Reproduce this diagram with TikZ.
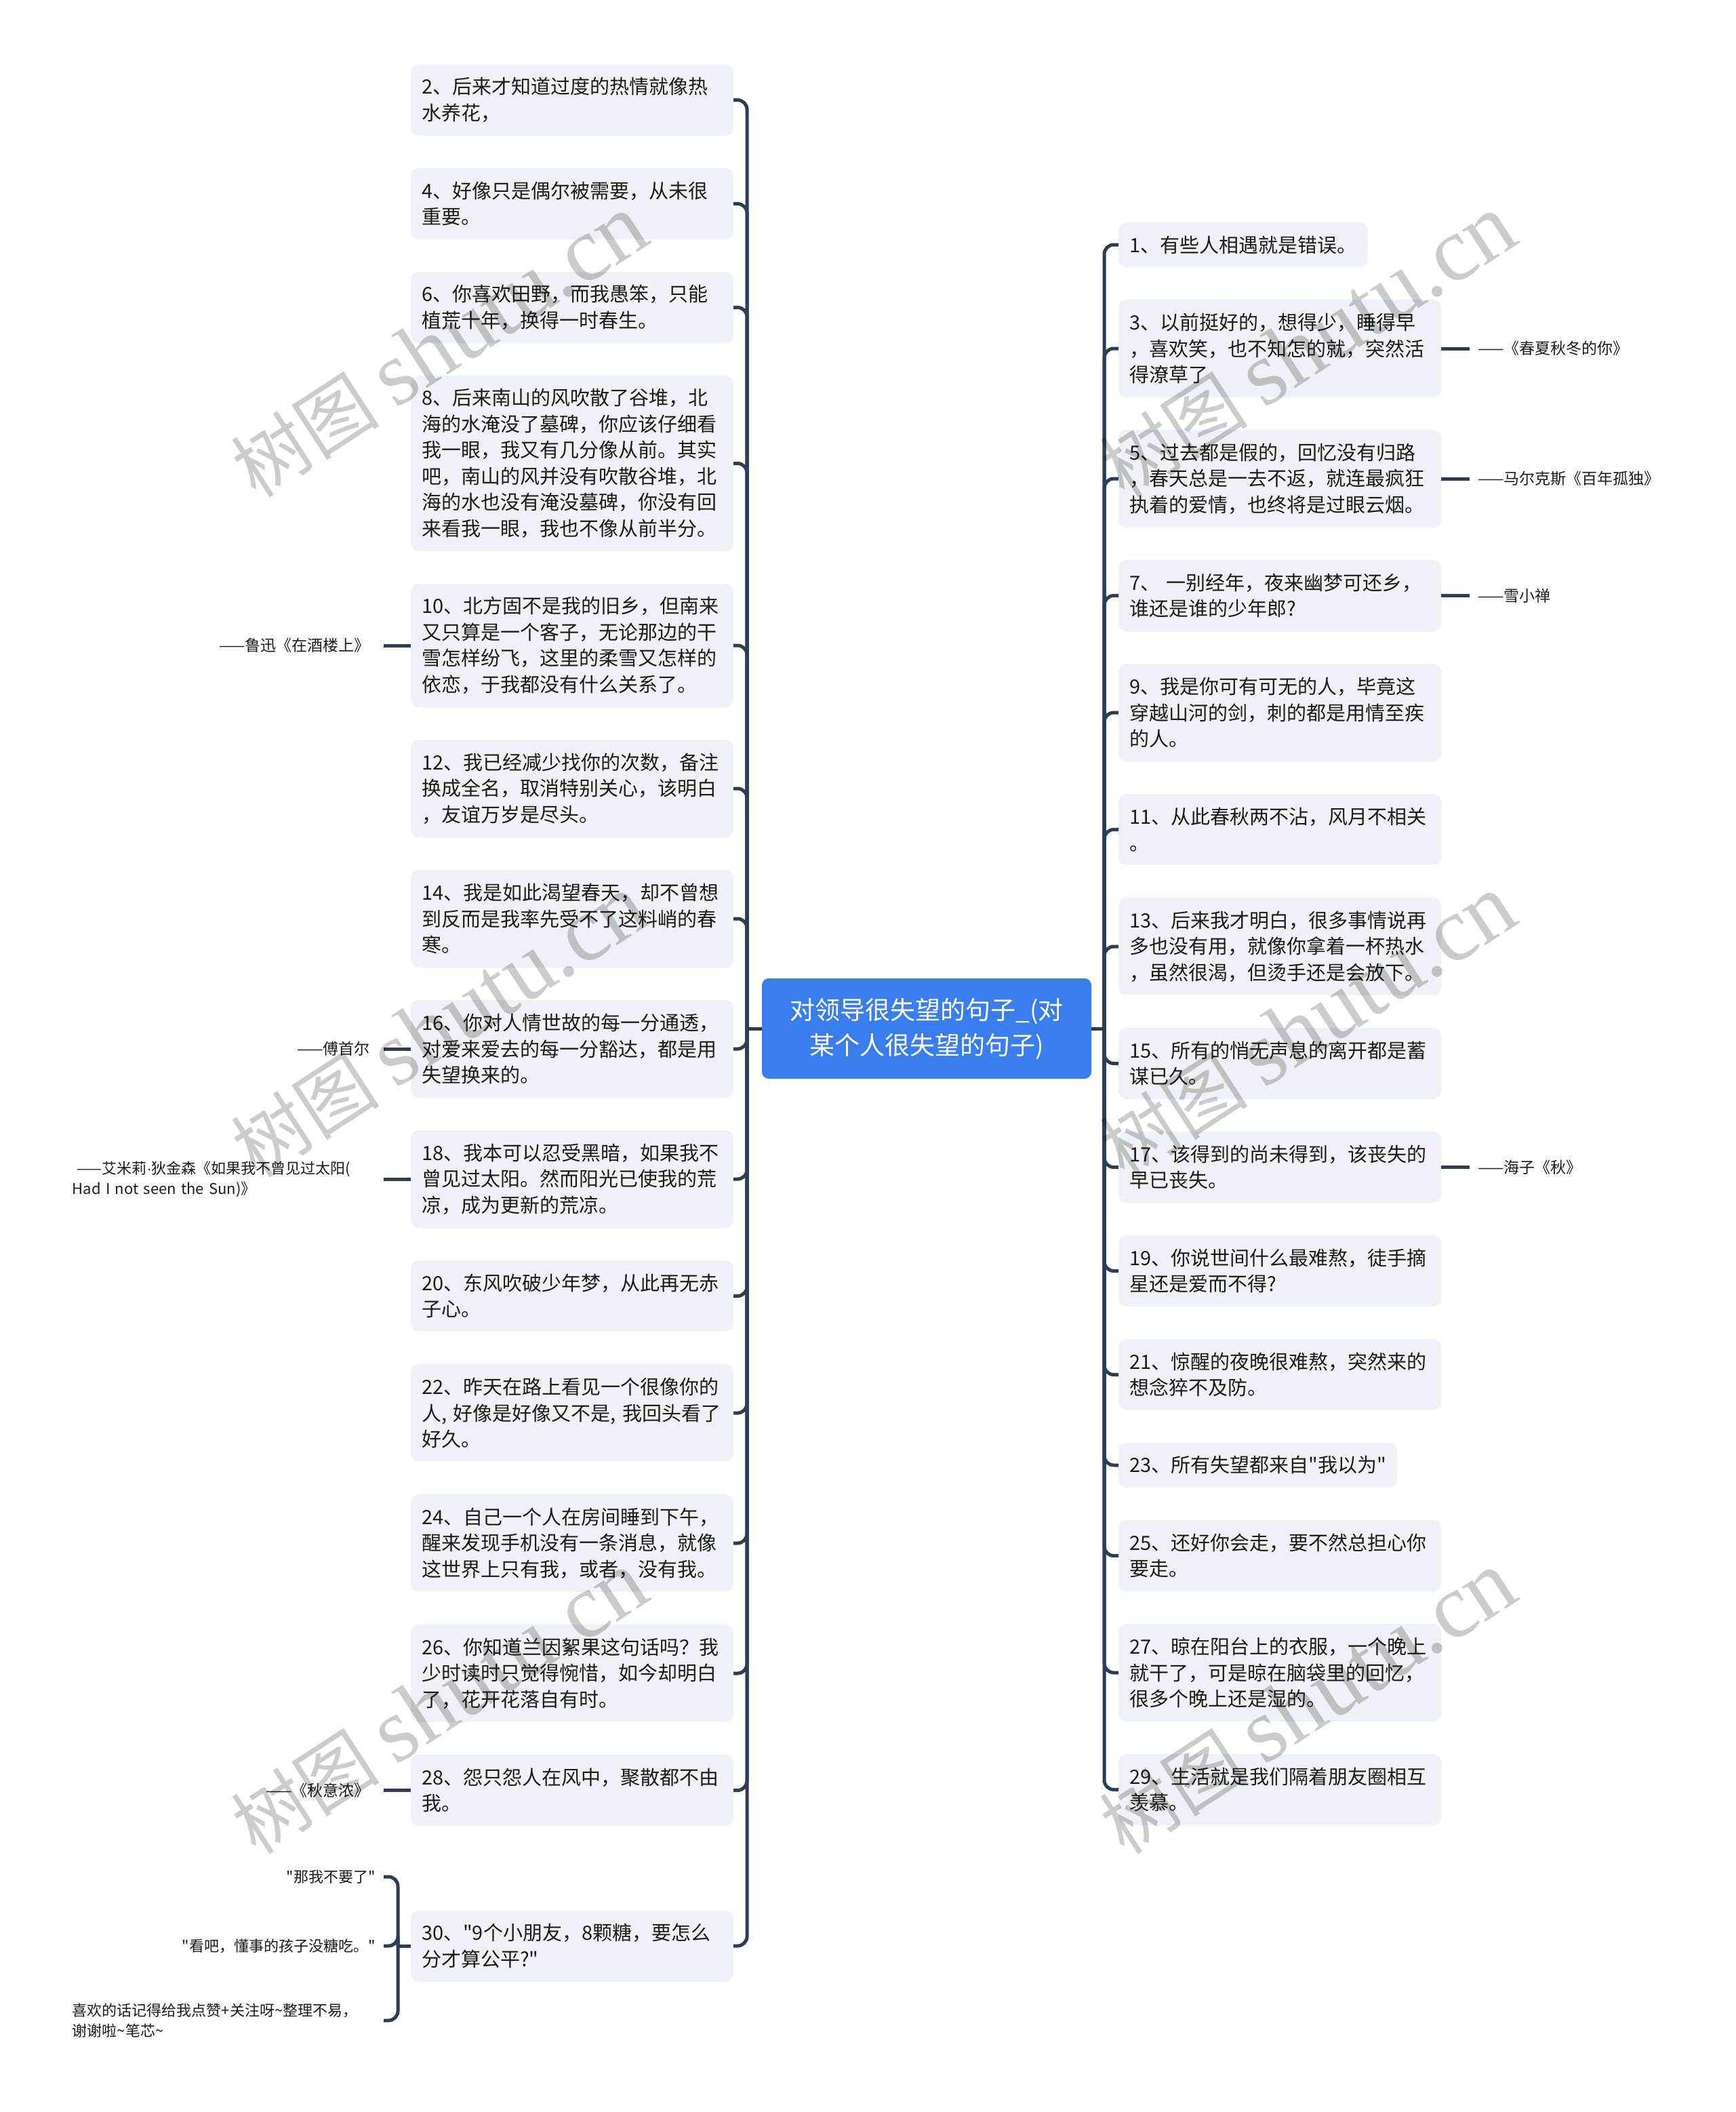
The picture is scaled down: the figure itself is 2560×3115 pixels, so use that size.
\documentclass[tikz,border=0pt]{standalone}
\usepackage{fontspec}
\setmainfont{Noto Sans CJK SC}[Ligatures=TeXOff]
\newfontfamily\wmlat{Liberation Serif}
\newfontfamily\latsans{Liberation Sans}
\definecolor{linec}{RGB}{46,62,82}
\definecolor{boxc}{RGB}{238,241,245}
\definecolor{rootc}{RGB}{58,125,237}
\definecolor{txtc}{RGB}{28,28,28}
\begin{document}
\begin{tikzpicture}[x=1pt,y=-1pt,
  qbase/.style={rectangle, rounded corners=12pt, fill=boxc, inner xsep=16pt, inner ysep=6pt, align=left, text=txtc, font=\fontsize{29}{38.5}\selectfont},
  qbox/.style={qbase, text width=444pt},
  L1/.style={minimum height=66pt}, L2/.style={minimum height=105pt}, L3/.style={minimum height=144pt},
  L4/.style={minimum height=182pt}, L6/.style={minimum height=259pt},
  conn/.style={draw=linec, line width=5pt, rounded corners=14pt},
  stub/.style={draw=linec, line width=5pt},
  annl/.style={inner xsep=20pt, inner ysep=2pt, anchor=east, text=txtc, font=\fontsize{23}{30}\selectfont},
  annr/.style={inner xsep=12pt, inner ysep=2pt, anchor=west, text=txtc, font=\fontsize{23}{30}\selectfont},
  annc/.style={inner xsep=12pt, inner ysep=2pt, anchor=east, text=txtc, font=\fontsize{22}{30}\selectfont},
  rootbox/.style={rectangle, rounded corners=10pt, fill=rootc, text=white, align=center, minimum width=486pt, minimum height=148pt, font=\fontsize{37}{52}\selectfont},
  wm/.style={text=black, opacity=0.2, rotate=33, inner sep=0pt},
]
\useasboundingbox (0,0) rectangle (2560,3115);
\fill[white] (0,0) rectangle (2560,3115);

% root
\node[rootbox] (root) at (1367,1517) {对领导很失望的句子\_(对\\某个人很失望的句子)};
\coordinate (LS) at (1102,1517);
\coordinate (RS) at (1629,1517);

% left boxes
\node[qbox,L2] (l2) at (844,147.5) {2、后来才知道过度的热情就像热\\水养花，};
\node[qbox,L2] (l4) at (844,300.5) {4、好像只是偶尔被需要，从未很\\重要。};
\node[qbox,L2] (l6) at (844,453.5) {6、你喜欢田野，而我愚笨，只能\\植荒十年，换得一时春生。};
\node[qbox,L6] (l8) at (844,683.5) {8、后来南山的风吹散了谷堆，北\\海的水淹没了墓碑，你应该仔细看\\我一眼，我又有几分像从前。其实\\吧，南山的风并没有吹散谷堆，北\\海的水也没有淹没墓碑，你没有回\\来看我一眼，我也不像从前半分。};
\node[qbox,L4] (l10) at (844,952) {10、北方固不是我的旧乡，但南来\\又只算是一个客子，无论那边的干\\雪怎样纷飞，这里的柔雪又怎样的\\依恋，于我都没有什么关系了。};
\node[qbox,L3] (l12) at (844,1163) {12、我已经减少找你的次数，备注\\换成全名，取消特别关心，该明白\\，友谊万岁是尽头。};
\node[qbox,L3] (l14) at (844,1355) {14、我是如此渴望春天，却不曾想\\到反而是我率先受不了这料峭的春\\寒。};
\node[qbox,L3] (l16) at (844,1547) {16、你对人情世故的每一分通透，\\对爱来爱去的每一分豁达，都是用\\失望换来的。};
\node[qbox,L3] (l18) at (844,1739) {18、我本可以忍受黑暗，如果我不\\曾见过太阳。然而阳光已使我的荒\\凉，成为更新的荒凉。};
\node[qbox,L2] (l20) at (844,1911.5) {20、东风吹破少年梦，从此再无赤\\子心。};
\node[qbox,L3] (l22) at (844,2084) {22、昨天在路上看见一个很像你的\\人, 好像是好像又不是, 我回头看了\\好久。};
\node[qbox,L3] (l24) at (844,2276) {24、自己一个人在房间睡到下午，\\醒来发现手机没有一条消息，就像\\这世界上只有我，或者，没有我。};
\node[qbox,L3] (l26) at (844,2468) {26、你知道兰因絮果这句话吗？我\\少时读时只觉得惋惜，如今却明白\\了，花开花落自有时。};
\node[qbox,L2] (l28) at (844,2640.5) {28、怨只怨人在风中，聚散都不由\\我。};
\node[qbox,L2] (l30) at (844,2870) {30、"9个小朋友，8颗糖，要怎么\\分才算公平?"};

% right boxes
\node[qbase,L1,anchor=west] (r1) at (1650,361) {1、有些人相遇就是错误。};
\node[qbox,L3] (r3) at (1888,514) {3、以前挺好的，想得少，睡得早\\，喜欢笑，也不知怎的就，突然活\\得潦草了};
\node[qbox,L3] (r5) at (1888,706) {5、过去都是假的，回忆没有归路\\，春天总是一去不返，就连最疯狂\\执着的爱情，也终将是过眼云烟。};
\node[qbox,L2] (r7) at (1888,878.5) {7、 一别经年，夜来幽梦可还乡，\\谁还是谁的少年郎?};
\node[qbox,L3] (r9) at (1888,1051) {9、我是你可有可无的人，毕竟这\\穿越山河的剑，刺的都是用情至疾\\的人。};
\node[qbox,L2] (r11) at (1888,1223.5) {11、从此春秋两不沾，风月不相关\\。};
\node[qbox,L3] (r13) at (1888,1396) {13、后来我才明白，很多事情说再\\多也没有用，就像你拿着一杯热水\\，虽然很渴，但烫手还是会放下。};
\node[qbox,L2] (r15) at (1888,1568.5) {15、所有的悄无声息的离开都是蓄\\谋已久。};
\node[qbox,L2] (r17) at (1888,1721.5) {17、该得到的尚未得到，该丧失的\\早已丧失。};
\node[qbox,L2] (r19) at (1888,1874.5) {19、你说世间什么最难熬，徒手摘\\星还是爱而不得?};
\node[qbox,L2] (r21) at (1888,2027.5) {21、惊醒的夜晚很难熬，突然来的\\想念猝不及防。};
\node[qbase,L1,anchor=west] (r23) at (1650,2161) {23、所有失望都来自"我以为"};
\node[qbox,L2] (r25) at (1888,2294.5) {25、还好你会走，要不然总担心你\\要走。};
\node[qbox,L3] (r27) at (1888,2467) {27、晾在阳台上的衣服，一个晚上\\就干了，可是晾在脑袋里的回忆，\\很多个晚上还是湿的。};
\node[qbox,L2] (r29) at (1888,2639.5) {29、生活就是我们隔着朋友圈相互\\羡慕。};

% root to spines
\draw[stub] (root.west) -- (LS);
\draw[stub] (root.east) -- (RS);
\foreach \n in {l2,l4,l6,l8,l10,l12,l14,l16,l18,l20,l22,l24,l26,l28,l30}
  \draw[conn] (LS) |- (\n.east);
\foreach \n in {r1,r3,r5,r7,r9,r11,r13,r15,r17,r19,r21,r23,r25,r27,r29}
  \draw[conn] (RS) |- (\n.west);

% left annotations
\node[annl] (a10) at (566,952) {——鲁迅《在酒楼上》};
\node[annl] (a16) at (566,1547) {——傅首尔};
\node[annl, text width=439pt, align=left, font=\fontsize{22}{30}\selectfont] (a18) at (566,1739) {\hspace{7pt}——艾米莉{\latsans ·}狄金森《如果我不曾见过太阳(\\Had I not seen the Sun)》};
\node[annl] (a28) at (566,2640.5) {——《秋意浓》};
\draw[stub] (l10.west) -- (a10.east);
\draw[stub] (l16.west) -- (a16.east);
\draw[stub] (l18.west) -- (a18.east);
\draw[stub] (l28.west) -- (a28.east);

% right annotations
\node[annr] (a3) at (2168,514) {——《春夏秋冬的你》};
\node[annr] (a5) at (2168,706) {——马尔克斯《百年孤独》};
\node[annr] (a7) at (2168,878.5) {——雪小禅};
\node[annr] (a17) at (2168,1721.5) {——海子《秋》};
\draw[stub] (r3.east) -- (a3.west);
\draw[stub] (r5.east) -- (a5.west);
\draw[stub] (r7.east) -- (a7.west);
\draw[stub] (r17.east) -- (a17.west);

% children of 30
\coordinate (B30) at (587,2870);
\node[annc] (c1) at (566,2768) {"那我不要了"};
\node[annc] (c2) at (566,2870) {"看吧，懂事的孩子没糖吃。"};
\node[annc, text width=447pt, align=left] (c3) at (566,2980) {喜欢的话记得给我点赞+关注呀\textasciitilde 整理不易，\\谢谢啦\textasciitilde 笔芯\textasciitilde};
\draw[stub] (l30.west) -- (B30);
\draw[conn] (B30) |- (c1.east);
\draw[conn] (B30) |- (c2.east);
\draw[conn] (B30) |- (c3.east);

% watermarks
\foreach \wx/\wy/\wn in {648/511/w1, 648/1514/w2, 648/2512/w3, 1929/511/w4, 1929/1514/w5, 1929/2512/w6}
  \node[wm] (\wn) at (\wx,\wy) {\fontsize{110}{110}\selectfont 树图\hspace{25pt}{\wmlat\fontsize{135}{135}\selectfont shutu.cn}};
\end{tikzpicture}
\end{document}
